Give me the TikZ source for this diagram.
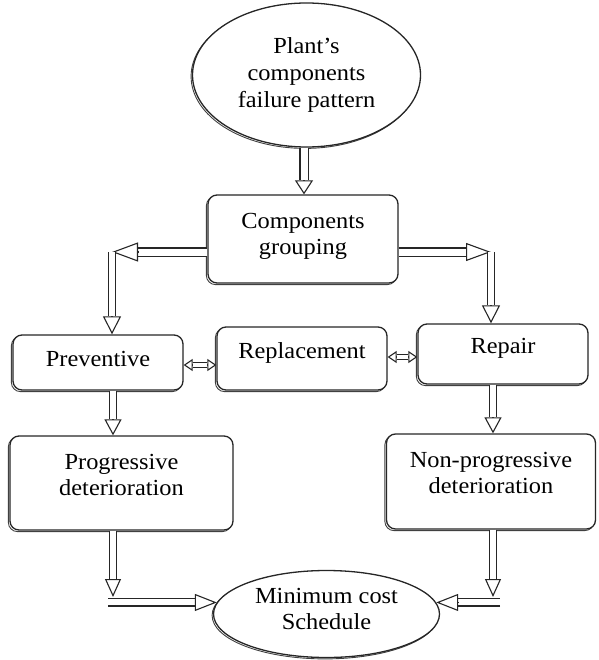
\documentclass[tikz,border=0pt]{standalone}
\usepackage{fontspec}
\setmainfont{Liberation Serif}[FakeStretch=1.06]
\usetikzlibrary{arrows.meta,calc,shapes.geometric,shadows}
\tikzset{
  box/.style={draw=black!85, line width=1.3pt, rounded corners=9pt, fill=white, inner sep=0pt,
              copy shadow={shadow xshift=-1.6pt, shadow yshift=-1.6pt, draw=black!75, fill=white, line width=0.9pt}},
  oval/.style={ellipse, draw=black!85, line width=1.3pt, fill=white, inner sep=0pt, align=center,
               font=\fontsize{23}{27}\selectfont,
               copy shadow={shadow xshift=-1.4pt, shadow yshift=-1.4pt, draw=black!75, fill=white, line width=0.9pt}},
  txt/.style={align=center, font=\fontsize{23}{26}\selectfont, inner sep=0pt},
  tipline/.style={draw=black!85, line width=1.1pt},
}
% block arrow: from, to, head length, head width, body gap
\newcommand\barrow[5]{%
  \pgfmathsetlengthmacro\outw{#5+2.2pt}%
  \draw[black!85, line width=\outw] (#1) -- ($(#2)!#3!(#1)$);
  \draw[white, line width=#5] (#1) -- ($(#2)!#3!(#1)$);
  \draw[tipline, -{Triangle[length=#3,width=#4,fill=white]}] ($(#2)!#3!(#1)$) -- (#2);
}
% two-headed block arrow
\newcommand\dbarrow[5]{%
  \pgfmathsetlengthmacro\outw{#5+2.2pt}%
  \draw[black!85, line width=\outw] ($(#1)!#3!(#2)$) -- ($(#2)!#3!(#1)$);
  \draw[white, line width=#5] ($(#1)!#3!(#2)$) -- ($(#2)!#3!(#1)$);
  \draw[tipline, -{Triangle[length=#3,width=#4,fill=white]}] ($(#1)!#3!(#2)$) -- (#1);
  \draw[tipline, -{Triangle[length=#3,width=#4,fill=white]}] ($(#2)!#3!(#1)$) -- (#2);
}
\begin{document}
\begin{tikzpicture}[x=1pt, y=-1pt]
\useasboundingbox (0,0) rectangle (598,660);

% nodes
\node[oval, minimum width=228pt, minimum height=144pt] (top) at (306.5,75) {Plant's\\components\\failure pattern};
\node[box, minimum width=190pt, minimum height=88pt] (grp) at (303,239) {};
\node[txt] (grpt) at (303,236) {Components\\grouping};
\node[box, minimum width=170pt, minimum height=55pt] (prev) at (98,362.5) {};
\node[txt] (prevt) at (98,359) {Preventive};
\node[box, minimum width=170pt, minimum height=63pt] (repl) at (302,358.5) {};
\node[txt] (replt) at (302,353) {Replacement};
\node[box, minimum width=170pt, minimum height=60pt] (rep) at (503,354) {};
\node[txt] (rept) at (503,348) {Repair};
\node[box, minimum width=223pt, minimum height=94pt] (prog) at (121.5,483) {};
\node[txt] (progt) at (121.5,475) {Progressive\\deterioration};
\node[box, minimum width=209pt, minimum height=95pt] (nprog) at (491,481.5) {};
\node[txt] (nprogt) at (491,473) {Non-progressive\\deterioration};
\node[oval, minimum width=226pt, minimum height=87pt] (ms) at (326.5,614) {};
\node[txt] (mst) at (326.5,609) {Minimum cost\\Schedule};

% helper coordinates
\coordinate (c1) at (304,0);
\coordinate (cl) at (112,252);
\coordinate (cr) at (491,252);
\coordinate (xl) at (113,0);
\coordinate (xr) at (493,0);
\coordinate (cbl) at (113,597);
\coordinate (cbr) at (493,597);
\coordinate (hl) at (108,0);
\coordinate (hr) at (500,0);
\coordinate (ya) at (0,365);
\coordinate (yb) at (0,357);

% connectors
\barrow{c1 |- top.south}{c1 |- grp.north}{14pt}{18pt}{7pt}
\barrow{grp.west |- cl}{cl}{26pt}{19pt}{7pt}
\barrow{cl}{cl |- prev.north}{18pt}{18pt}{6pt}
\barrow{grp.east |- cr}{cr}{25pt}{18pt}{7pt}
\barrow{cr}{cr |- rep.north}{18pt}{18pt}{6pt}
\barrow{xl |- prev.south}{xl |- prog.north}{16pt}{17pt}{6pt}
\barrow{xr |- rep.south}{xr |- nprog.north}{16pt}{17pt}{6pt}
\barrow{xl |- prog.south}{cbl}{18pt}{16pt}{6pt}
\barrow{xr |- nprog.south}{cbr}{18pt}{16pt}{6pt}
\barrow{hl |- ms.174}{ms.174}{22pt}{17pt}{6pt}
\barrow{hr |- ms.6}{ms.6}{22pt}{17pt}{6pt}
\dbarrow{prev.east |- ya}{repl.west |- ya}{9pt}{12pt}{4pt}
\dbarrow{repl.east |- yb}{rep.west |- yb}{9pt}{12pt}{4pt}
\end{tikzpicture}
\end{document}
